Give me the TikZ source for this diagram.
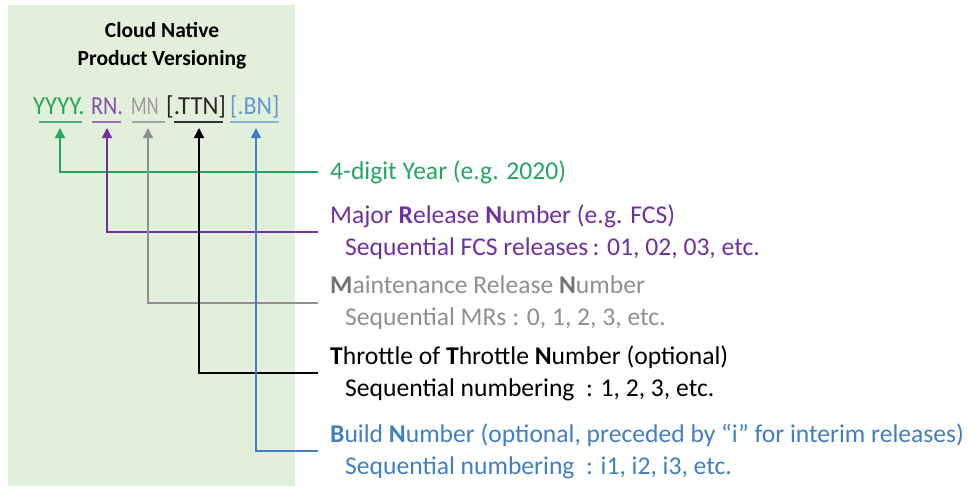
\documentclass[tikz,border=0pt]{standalone}
\usepackage{fontspec}
\setmainfont{Carlito}
\usetikzlibrary{arrows.meta}
\definecolor{panelgreen}{HTML}{E2EFDA}
\definecolor{yrgreen}{HTML}{25A562}
\definecolor{rnpurple}{HTML}{7030A0}
\definecolor{mngray}{HTML}{8F8F8F}
\definecolor{bnblue}{HTML}{3F7FC2}
\newcommand{\descfont}{\fontsize{25.6}{32}\selectfont}
\newcommand{\partfont}{\fontsize{26}{26}\selectfont}

\tikzset{
  desc/.style={anchor=west, align=left, inner xsep=12pt, inner ysep=0pt, font=\descfont},
  part/.style={anchor=base west, inner sep=0pt, font=\partfont},
  uline/.style={line width=1.8pt},
  pointer/.style={line width=1.4pt, -{Triangle[width=10pt,length=10pt]}},
}

\begin{document}
\begin{tikzpicture}[x=1pt,y=-1pt]
\useasboundingbox (0,0) rectangle (969,487);
\fill[panelgreen] (8,5) rectangle (295,486);

% title
\node[font=\bfseries\fontsize{21.5}{28}\selectfont, align=center] (title) at (162,46) {Cloud Native\\Product Versioning};

% version string
\node[part, text=yrgreen] (yr) at (33,114) {\scalebox{0.95}[1]{YYYY.}};
\node[part, text=rnpurple!85] (rn) at (91,114) {\scalebox{0.85}[1]{RN.}};
\node[part, text=mngray!90] (mn) at (131,114) {\scalebox{0.7}[1]{MN}};
\node[part, text=black!85] (ttn) at (166,114) {\scalebox{0.95}[1]{[.TTN]}};
\node[part, text=bnblue!80] (bn) at (230,114) {\scalebox{0.92}[1]{[.BN]}};

\draw[uline, yrgreen!85] (39,122) -- (82,122);
\draw[uline, rnpurple!70] (92,122) -- (121,122);
\draw[uline, mngray!80] (132,122) -- (165,122);
\draw[uline, black!80] (174,122) -- (223,122);
\draw[uline, bnblue!60] (230,122) -- (279,122);

\coordinate (yrt) at (60,128);
\coordinate (rnt) at (107,128);
\coordinate (mnt) at (148,128);
\coordinate (ttnt) at (199,128);
\coordinate (bnt) at (256,128);

% descriptions
\node[desc, text=yrgreen] (yrd) at (318,172) {4-digit Year (e.g. 2020)};
\node[desc, text=rnpurple] (rnd) at (318,232) {Major \textbf{R}elease \textbf{N}umber (e.g. FCS)\\
  \hspace*{15pt}Sequential FCS releases\,: 01, 02, 03, etc.};
\node[desc, text=mngray] (mnd) at (318,303) {\textbf{\color{mngray!80!black}M}aintenance Release \textbf{\color{mngray!80!black}N}umber\\
  \hspace*{15pt}Sequential MRs : 0, 1, 2, 3, etc.};
\node[desc, text=black] (ttnd) at (318,373) {\textbf{T}hrottle of \textbf{T}hrottle \textbf{N}umber (optional)\\
  \hspace*{15pt}Sequential numbering \ : 1, 2, 3, etc.};
\node[desc, text=bnblue] (bnd) at (318,451) {\textbf{B}uild \textbf{N}umber (optional, preceded by “i” for interim releases)\\
  \hspace*{15pt}Sequential numbering \ : i1, i2, i3, etc.};

% pointers
\draw[pointer, yrgreen] (yrd.west) -| (yrt);
\draw[pointer, rnpurple] (rnd.west) -| (rnt);
\draw[pointer, mngray] (mnd.west) -| (mnt);
\draw[pointer, black] (ttnd.west) -| (ttnt);
\draw[pointer, bnblue] (bnd.west) -| (bnt);
\end{tikzpicture}
\end{document}
